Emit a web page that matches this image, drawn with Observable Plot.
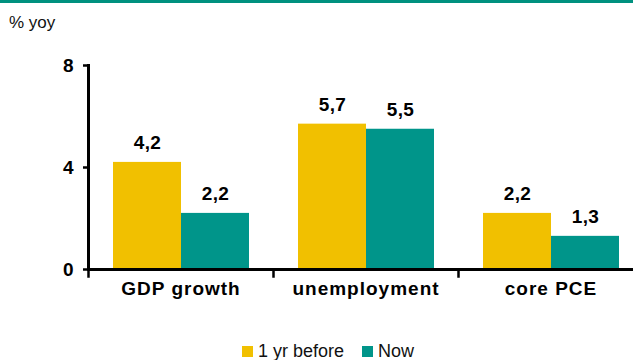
<!DOCTYPE html>
<html>
<head>
<meta charset="utf-8">
<script src="https://cdn.jsdelivr.net/npm/d3@7"></script>
<script src="https://cdn.jsdelivr.net/npm/@observablehq/plot@0.6"></script>
<style>
  html, body { margin: 0; padding: 0; overflow: hidden; background: #fff; width: 633px; height: 360px; }
  #wrap { position: relative; width: 633px; height: 360px; font-family: "Liberation Sans", Arial, sans-serif; color: #000; }
  #chart { position: absolute; left: 0; top: 0; width: 643px; }
  #chart svg { max-width: none !important; }
  #topline { position: absolute; left: 0; top: 0; width: 633px; height: 3px; background: #00917F; }
  #unit { position: absolute; left: 9px; top: 13px; font-size: 17px; line-height: 20px; color: #111; }
  #legend { position: absolute; left: 242px; top: 341px; display: flex; align-items: center; font-size: 18px; line-height: 20px; color: #111; }
  #legend .sw { width: 11px; height: 11px; display: inline-block; margin-right: 5px; }
  #legend .item { display: flex; align-items: center; margin-right: 18px; }
  #chart svg g[aria-label="fx-axis tick label"] text { letter-spacing: 1px; }
  #chart svg g[aria-label="text"] text { letter-spacing: 0.3px; }
</style>
</head>
<body>
<div id="wrap">
  <div id="chart"></div>
  <div id="topline"></div>
  <div id="unit">% yoy</div>
  <div id="legend"></div>
</div>
<script>
const categories = ["GDP growth", "unemployment", "core PCE"];
const series = ["1 yr before", "Now"];
const beforeValues = [4.2, 5.7, 2.2];
const nowValues = [2.2, 5.5, 1.3];
const yTicks = [0, 4, 8];
const colors = ["#F1C000", "#00958A"];

const data = categories.flatMap((c, i) => [
  {category: c, series: series[0], value: beforeValues[i]},
  {category: c, series: series[1], value: nowValues[i]}
]);
const fmt = v => v.toFixed(1).replace(".", ",");

const W = 643, H = 300, mT = 65, mB = 31, mL = 88;

const chart = Plot.plot({
  width: W,
  height: H,
  marginTop: mT,
  marginBottom: mB,
  marginLeft: mL,
  marginRight: 0,
  style: {background: "transparent", fontFamily: "'Liberation Sans', Arial, sans-serif", color: "#000", overflow: "visible", maxWidth: "none"},
  fx: {domain: categories, padding: 0},
  x: {domain: series, paddingInner: 0, paddingOuter: 0.36, axis: null},
  y: {domain: [0, 8], axis: null},
  color: {domain: series, range: colors},
  marks: [
    Plot.barY(data, {fx: "category", x: "series", y: "value", fill: "series"}),
    Plot.text(data, {fx: "category", x: "series", y: "value", text: d => fmt(d.value), dy: -19, fontSize: 19, fontWeight: "bold", fill: "#000"}),
    Plot.ruleY([0], {stroke: "#000", strokeWidth: 3}),
    Plot.frame({anchor: "left", facet: "super", stroke: "#000", strokeWidth: 3}),
    Plot.frame({anchor: "left", insetTop: H - mT - mB, insetBottom: -7, stroke: "#000", strokeWidth: 2.5}),
    Plot.axisY(yTicks, {tickSize: 5, tickPadding: 10, fontSize: 19, fontWeight: "bold", strokeWidth: 2.5, tickFormat: d => String(d), label: null}),
    Plot.axisFx({anchor: "bottom", tickSize: 0, tickPadding: 12, fontSize: 19, fontWeight: "bold", label: null})
  ]
});
document.getElementById("chart").appendChild(chart);

const legend = document.getElementById("legend");
series.forEach((s, i) => {
  const item = document.createElement("div");
  item.className = "item";
  const sw = document.createElement("span");
  sw.className = "sw";
  sw.style.background = colors[i];
  item.appendChild(sw);
  item.appendChild(document.createTextNode(s));
  legend.appendChild(item);
});
</script>
</body>
</html>
